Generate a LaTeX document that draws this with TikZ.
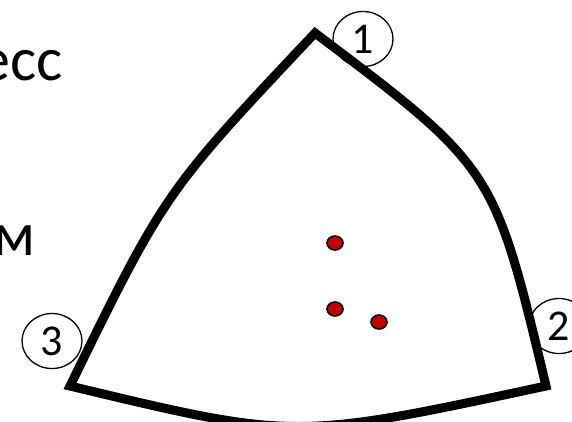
\documentclass[tikz,border=0pt]{standalone}
\usepackage{fontspec}
\setmainfont{Carlito}
\usetikzlibrary{shapes.geometric}
\definecolor{DotRed}{HTML}{C00000}
\tikzset{border/.style={line width=9pt,line join=miter},
 vlabel/.style={ellipse,draw,line width=1.3pt,minimum width=60pt,minimum height=55pt,
 inner sep=0pt,font=\fontsize{44}{44}\selectfont},
 dot/.style={ellipse,draw,fill=DotRed,line width=1.6pt,minimum width=16pt,
 minimum height=14pt,inner sep=0pt},
 word/.style={inner sep=0pt,anchor=base east,font=\fontsize{62}{62}\selectfont}}
\begin{document}
\begin{tikzpicture}[x=1pt,y=-1pt]
\useasboundingbox (0,0) rectangle (572,421);
\clip (0,0) rectangle (572,421);
\node[word] (w1) at (63,80) {есс};
\node[word] (w2) at (36,255) {м};
\coordinate (v1) at (315,33);
\coordinate (v2) at (546,386);
\coordinate (v3) at (70,386);
\draw[border] (v1) .. controls (494,168) .. (v2) .. controls (295,440) .. (v3)
 .. controls (165,192) .. cycle;
\node[vlabel] (n1) at (363,39) {1};
\node[vlabel] (n2) at (559,326) {2};
\node[vlabel] (n3) at (52,341) {3};
\foreach \x/\y/\k in {335/243/1,335/309/2,379/322/3}
 {\node[dot] (d\k) at (\x,\y) {};}
\end{tikzpicture}
\end{document}
